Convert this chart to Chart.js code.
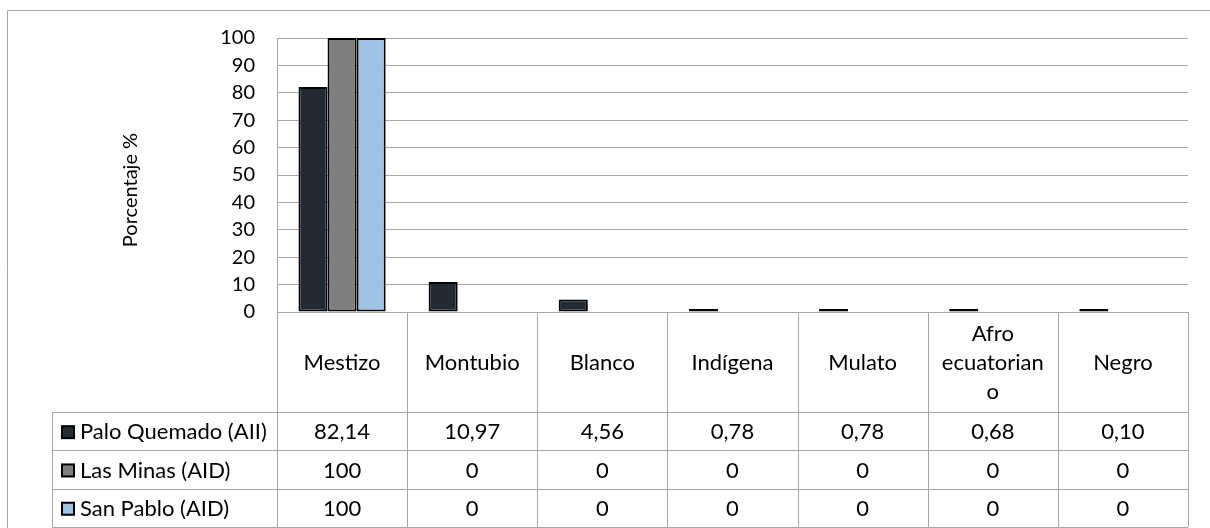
<!DOCTYPE html>
<html>
<head>
<meta charset="utf-8">
<script src="https://cdn.jsdelivr.net/npm/chart.js@4.4.0/dist/chart.umd.min.js"></script>
<style>
  html, body { margin: 0; padding: 0; background: #fff; }
  #wrap { position: relative; width: 1210px; height: 528px; }
</style>
</head>
<body>
<div id="wrap"><canvas id="chart" width="1210" height="528"></canvas></div>
<script>
// categories (header of the data table), multi-line where the cell wraps
var categories = ["Mestizo", "Montubio", "Blanco", "Indígena", "Mulato", ["Afro", "ecuatorian", "o"], "Negro"];

var seriesNames = ["Palo Quemado (AII)", "Las Minas (AID)", "San Pablo (AID)"];
var paloQuemado = [82.14, 10.97, 4.56, 0.78, 0.78, 0.68, 0.10];
var lasMinas = [100, 0, 0, 0, 0, 0, 0];
var sanPablo = [100, 0, 0, 0, 0, 0, 0];
var tableDecimals = [2, 0, 0];

var yTicks = [0, 10, 20, 30, 40, 50, 60, 70, 80, 90, 100];
var yTitle = "Porcentaje %";

var colors = ["#222a35", "#7f7f7f", "#9dc3e6"];
var fontFamily = "Lato, 'Open Sans', sans-serif";
var lineColor = "#a6a6a6";

/* table under the bars, drawn from the x scale columns */
var tablePlugin = {
  id: "dataTable",
  afterDraw: function (chart) {
    var c = chart.ctx;
    var a = chart.chartArea;
    var xs = chart.scales.x;
    var n = categories.length;
    var cw = (a.right - a.left) / n;
    var headBottom = a.bottom + 100;
    var rowH = 38.3;
    var tableLeft = 52;
    var series = [paloQuemado, lasMinas, sanPablo];
    var tableBottom = headBottom + rowH * series.length;

    c.save();
    c.strokeStyle = lineColor;
    c.lineWidth = 1;

    // outer frame
    c.beginPath();
    c.moveTo(7.5, 600);
    c.lineTo(7.5, 10.5);
    c.lineTo(1220, 10.5);
    c.stroke();

    // verticals between columns
    c.beginPath();
    for (var i = 0; i <= n; i++) {
      var x = Math.round(xs.getPixelForValue(i) - cw / 2) + 0.5;
      c.moveTo(x, a.bottom);
      c.lineTo(x, tableBottom);
    }
    c.moveTo(tableLeft + 0.5, headBottom);
    c.lineTo(tableLeft + 0.5, tableBottom);
    // horizontal row lines
    for (var r = 0; r <= series.length; r++) {
      var y = Math.round(headBottom + r * rowH) + 0.5;
      c.moveTo(tableLeft, y);
      c.lineTo(a.right, y);
    }
    c.stroke();

    c.fillStyle = "#000";
    c.textAlign = "center";
    c.textBaseline = "middle";

    // y axis title
    c.font = "20px " + fontFamily;
    c.save();
    c.translate(131, 190);
    c.rotate(-Math.PI / 2);
    c.fillText(yTitle, 0, 0);
    c.restore();

    c.font = "22px " + fontFamily;

    // header
    for (var i = 0; i < n; i++) {
      var cx = xs.getPixelForValue(i);
      var lab = categories[i];
      var lines = Array.isArray(lab) ? lab : [lab];
      var lh = 29;
      var y0 = a.bottom + 51 - (lines.length - 1) * lh / 2;
      for (var k = 0; k < lines.length; k++) {
        c.fillText(lines[k], cx, y0 + k * lh);
      }
    }

    // rows
    for (var r = 0; r < series.length; r++) {
      var cy = headBottom + r * rowH + rowH / 2 + 1;
      // legend key
      c.fillStyle = colors[r];
      c.fillRect(tableLeft + 10, cy - 6, 12, 12);
      c.strokeStyle = "#000";
      c.lineWidth = 2;
      c.strokeRect(tableLeft + 10, cy - 6, 12, 12);
      c.fillStyle = "#000";
      c.textAlign = "left";
      c.fillText(seriesNames[r], tableLeft + 28, cy);
      c.textAlign = "center";
      for (var i = 0; i < n; i++) {
        var v = series[r][i].toFixed(tableDecimals[r]).replace(".", ",");
        c.fillText(v, xs.getPixelForValue(i), cy);
      }
    }
    c.restore();
  }
};

function makeSet(idx, values, minLen) {
  return {
    label: seriesNames[idx],
    data: values,
    backgroundColor: colors[idx],
    borderColor: "#000",
    borderWidth: 2,
    borderSkipped: false,
    minBarLength: minLen,
    categoryPercentage: 0.67,
    barPercentage: 1.0
  };
}

var ctx = document.getElementById("chart");

var myChart = new Chart(ctx, {
  type: "bar",
  data: {
    labels: categories,
    datasets: [
      makeSet(0, paloQuemado, 3),
      makeSet(1, lasMinas, 0),
      makeSet(2, sanPablo, 0)
    ]
  },
  options: {
    responsive: false,
    animation: false,
    layout: { padding: { top: 38, right: 22, bottom: 216, left: 0 } },
    plugins: {
      legend: { display: false },
      tooltip: { enabled: false },
      title: { display: false }
    },
    scales: {
      x: { display: false },
      y: {
        min: 0,
        max: 100,
        afterBuildTicks: function (scale) {
          scale.ticks = yTicks.map(function (v) { return { value: v }; });
        },
        afterFit: function (scale) { scale.width = 277; },
        ticks: { padding: 22, color: "#000", font: { family: fontFamily, size: 20 } },
        grid: { color: lineColor, drawTicks: false },
        border: { color: lineColor }
      }
    }
  },
  plugins: [tablePlugin]
});
</script>
</body>
</html>
